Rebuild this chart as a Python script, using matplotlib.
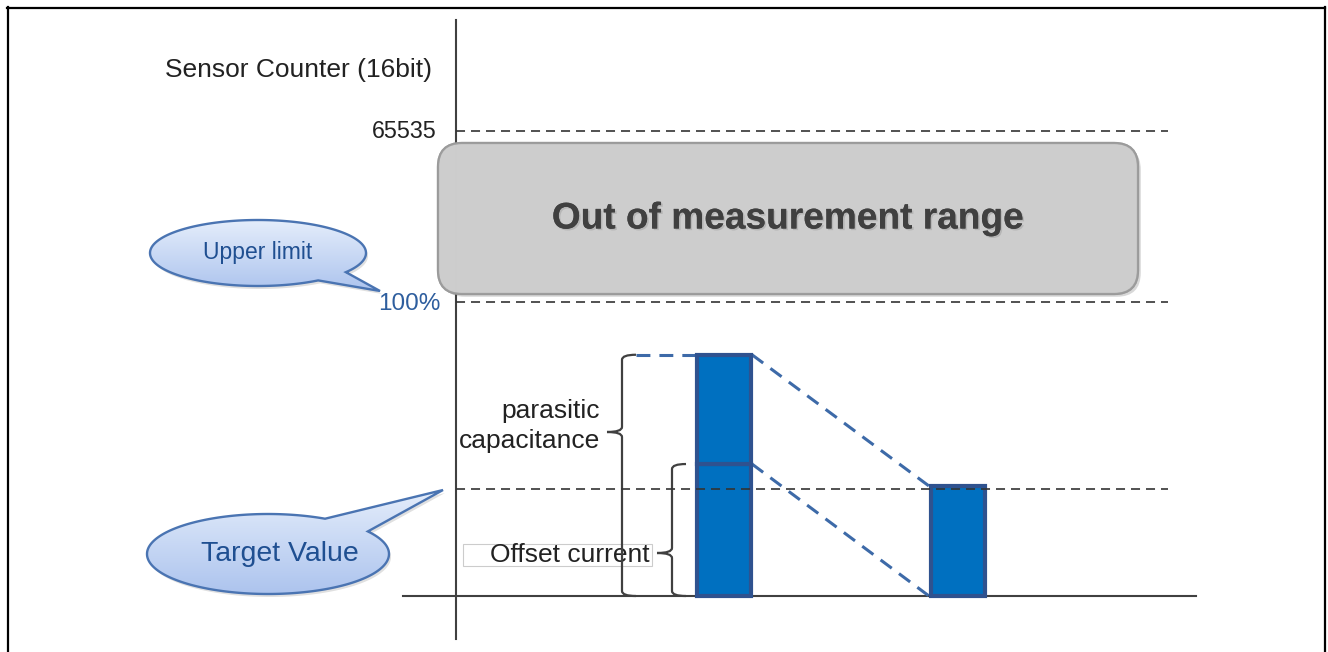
import numpy as np
import matplotlib
matplotlib.use("Agg")
import matplotlib.pyplot as plt
from matplotlib.patches import FancyBboxPatch, Polygon, PathPatch
from matplotlib.path import Path
from matplotlib.colors import LinearSegmentedColormap
import matplotlib.patheffects as pe

plt.rcParams['font.family'] = ['Liberation Sans', 'DejaVu Sans']
plt.rcParams['lines.scale_dashes'] = False

# data (sensor counts)
COUNTER_MAX = 65535
UPPER_LIMIT = 41400      # 100 %
TARGET = 15100
bar_labels = ['before', 'after']
offset_counts = [18600, 15500]     # offset current part
parasitic_counts = [15400, 0]      # parasitic capacitance part
y_tick_labels = ['65535', '100%']

# layout (pixels)
W_PX, H_PX = 1328, 652
Y0_PX, YMAX_PX = 596, 131          # pixel rows of 0 and 65535
bar_x = [723.5, 957.5]
bar_w = 54
CPP = COUNTER_MAX / (Y0_PX - YMAX_PX)   # counts per pixel

AXIS_C = '#404040'
TEXT_C = '#222222'
BAR_FILL = '#0070c0'
BAR_EDGE = '#2f528f'
LINK_C = '#3d6aa8'

fig = plt.figure(figsize=(W_PX / 100, H_PX / 100), dpi=100)
ax = fig.add_axes([0, 0, 1, 1])
ax.set_xlim(0, W_PX)
ax.set_ylim(-(H_PX - Y0_PX) * CPP, Y0_PX * CPP)
ax.axis('off')

# axes lines
ax.plot([456, 456], [-(639 - Y0_PX) * CPP, (Y0_PX - 20) * CPP], color=AXIS_C, lw=1.5, zorder=2)
ax.plot([403, 1196], [0, 0], color=AXIS_C, lw=1.5, zorder=2)

# reference dashed lines
for val in [COUNTER_MAX, UPPER_LIMIT, TARGET]:
    ax.plot([456, 1168], [val, val], color='#333333', lw=1.2, dashes=(6.5, 4.3), zorder=5)

# bars
totals = [o + p for o, p in zip(offset_counts, parasitic_counts)]
ax.bar(bar_x, offset_counts, width=bar_w, color=BAR_FILL, edgecolor=BAR_EDGE, lw=3, zorder=3)
ax.bar(bar_x[0], parasitic_counts[0], bottom=offset_counts[0], width=bar_w,
       color=BAR_FILL, edgecolor=BAR_EDGE, lw=3, zorder=3)

# connectors between bars
x_r = bar_x[0] + bar_w / 2 + 1.5
x_l = bar_x[1] - bar_w / 2 - 1.5
ax.plot([x_r, x_l], [totals[0], totals[1]], color=LINK_C, lw=2.2, dashes=(10, 6.5), zorder=2)
ax.plot([x_r, x_l], [offset_counts[0], 0], color=LINK_C, lw=2.2, dashes=(10, 6.5), zorder=2)
ax.plot([636, bar_x[0] - bar_w / 2], [totals[0], totals[0]], color=LINK_C, lw=2.2,
        dashes=(10, 6.5), zorder=2)


def brace(x, bot, top, mid, tip=14, nub=15, r=5):
    rc = r * CPP
    verts = [(x + tip, top), (x, top), (x, top - rc), (x, mid + rc), (x, mid), (x - nub, mid),
             (x, mid), (x, mid - rc), (x, bot + rc), (x, bot), (x + tip, bot)]
    codes = [Path.MOVETO, Path.CURVE3, Path.CURVE3, Path.LINETO, Path.CURVE3, Path.CURVE3,
             Path.CURVE3, Path.CURVE3, Path.LINETO, Path.CURVE3, Path.CURVE3]
    ax.add_patch(PathPatch(Path(verts, codes), fill=False, edgecolor=AXIS_C, lw=1.6, zorder=4))


brace(622, 0, totals[0], (Y0_PX - 432) * CPP)
brace(672, 0, offset_counts[0], (Y0_PX - 553) * CPP)

ax.text(600, (Y0_PX - 426) * CPP, 'parasitic\ncapacitance', ha='right', va='center',
        fontsize=19, color=TEXT_C, linespacing=1.28, zorder=4)
# label box behind "Offset current"
ax.add_patch(plt.Rectangle((463, (Y0_PX - 566) * CPP), 189, 22 * CPP, fc='white', ec='#cccccc',
                           lw=0.8, zorder=2.5))
ax.text(650, (Y0_PX - 555) * CPP, 'Offset current', ha='right', va='center', fontsize=19,
        color=TEXT_C, zorder=3)

ax.text(437, COUNTER_MAX, y_tick_labels[0], ha='right', va='center', fontsize=16.8, color=TEXT_C)
ax.text(440, UPPER_LIMIT - 2 * CPP, y_tick_labels[1], ha='right', va='center', fontsize=17.5,
        color='#2e5e9e')
ax.text(165, (Y0_PX - 70) * CPP, 'Sensor Counter (16bit)', ha='left', va='center', fontsize=19,
        color=TEXT_C)

# decoration overlay in pixel coordinates
deco = fig.add_axes([0, 0, 1, 1])
deco.set_xlim(0, W_PX)
deco.set_ylim(H_PX, 0)
deco.axis('off')
deco.patch.set_alpha(0)

# frame
deco.plot([7, 1325], [7.5, 7.5], color='black', lw=1.6)
deco.plot([7.5, 7.5], [7, H_PX], color='black', lw=1.6)
deco.plot([1325, 1325], [7, H_PX], color='black', lw=1.6)

# out of range box
box = FancyBboxPatch((438, 143), 700, 151, boxstyle='round,pad=0,rounding_size=24',
                     fc='#cdcdcd', ec='#9a9a9a', lw=1.6, alpha=0.92, zorder=3,
                     path_effects=[pe.withSimplePatchShadow(offset=(2, -2), alpha=0.2), pe.Normal()])
deco.add_patch(box)
deco.text(788, 219, 'Out of measurement range', ha='center', va='center', fontsize=26.7,
          fontweight='bold', color='#404040', zorder=4,
          path_effects=[pe.withSimplePatchShadow(offset=(1.2, -1.2), alpha=0.12), pe.Normal()])

cmap = LinearSegmentedColormap.from_list('callout', ['#e4edfb', '#adc4ee'])


def callout(cx, cy, a, b, t1, t2, tip, label, size, tx):
    ts = np.linspace(t2, t1 + 2 * np.pi, 240)
    pts = np.column_stack([cx + a * np.cos(ts), cy + b * np.sin(ts)])
    pts = np.vstack([pts, tip])
    poly = Polygon(pts, closed=True, fc='none', ec='#4a74b2', lw=1.7, zorder=6)
    shadow = Polygon(pts + [2, 3], closed=True, fc='#000000', ec='none', alpha=0.12, zorder=4)
    deco.add_patch(shadow)
    deco.add_patch(poly)
    grad = np.linspace(0, 1, 100).reshape(-1, 1)
    ymin, ymax = min(cy - b, tip[1]), max(cy + b, tip[1])
    im = deco.imshow(grad, cmap=cmap, aspect='auto', origin='upper', zorder=5,
                     extent=(min(cx - a, tip[0]), max(cx + a, tip[0]), ymax, ymin))
    im.set_clip_path(poly)
    deco.text(tx, cy, label, ha='center', va='center', fontsize=size, color='#1f4f91', zorder=7)


callout(258, 253, 108, 33, 0.62, 0.98, (380, 291), 'Upper limit', 16.5, 258)
callout(268, 554, 121, 40, -1.08, -0.6, (443, 490), 'Target Value', 20.5, 280)
deco.set_xlim(0, W_PX)
deco.set_ylim(H_PX, 0)

fig.savefig('out.png', dpi=100)
